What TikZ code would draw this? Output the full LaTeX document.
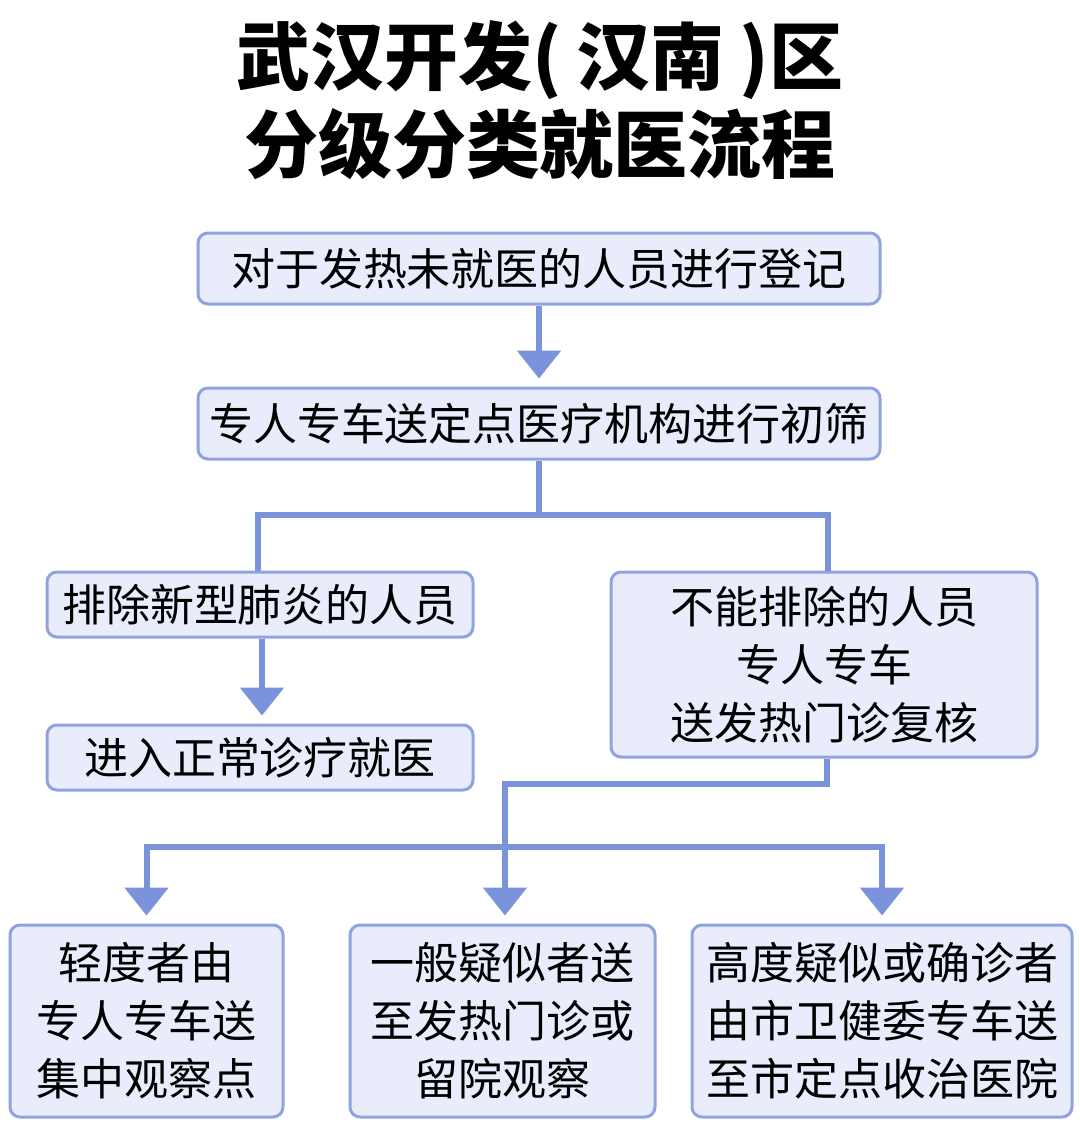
\documentclass[tikz,border=0pt]{standalone}
\usepackage{fontspec}
\usepackage{xcolor}
\usepackage{tikz}
\usetikzlibrary{arrows.meta,positioning}
\setmainfont{Noto Sans CJK SC}
\newfontfamily\titlefont{Noto Sans CJK SC Black}
\definecolor{flowblue}{RGB}{123,147,219}
\definecolor{boxline}{RGB}{143,163,222}
\definecolor{boxfill}{RGB}{233,237,251}

\begin{document}
\begin{tikzpicture}[
  x=0.5pt, y=-0.5pt,
  box/.style={draw=boxline, line width=1.5pt, rounded corners=5pt, fill=boxfill,
              align=center, inner sep=0pt, font=\fontsize{22}{29}\selectfont},
  wide/.style={box, minimum width=341pt, minimum height=35.5pt},
  half/.style={box, minimum width=213pt},
  low/.style={box, minimum height=96pt},
  link/.style={draw=flowblue, line width=3pt},
  flow/.style={link, -{Triangle[width=21.5pt,length=14pt]}, shorten >=4pt}
]
\useasboundingbox (0,0) rectangle (1080,1148);

\node[font=\titlefont\fontsize{37}{44}\selectfont, align=center] (title) at (540,100)
  {武汉开发(\hspace{0.2em}汉南\hspace{0.2em})区\\分级分类就医流程};

\node[wide] (register) at (539,268.5) {对于发热未就医的人员进行登记};
\node[wide, below=40.5pt of register] (screen) {专人专车送定点医疗机构进行初筛};
\node[half, minimum height=32.5pt] (excluded) at (260,604.5) {排除新型肺炎的人员};
\node[half, minimum height=32.5pt, below=42.5pt of excluded] (normal) {进入正常诊疗就医};
\node[half, minimum height=92.5pt] (review) at (824,664.5)
  {不能排除的人员\\专人专车\\送发热门诊复核};
\node[low, minimum width=136.5pt] (mild) at (146.5,1021)
  {轻度者由\\专人专车送\\集中观察点};
\node[low, minimum width=152.5pt, right=32pt of mild] (suspect)
  {一般疑似者送\\至发热门诊或\\留院观察};
\node[low, minimum width=190pt, right=17pt of suspect] (severe)
  {高度疑似或确诊者\\由市卫健委专车送\\至市定点收治医院};

\coordinate (split1) at (539,515);
\coordinate (bend) at (505,784);
\coordinate (split2) at (505,847);

\draw[flow] (register) -- (screen);
\draw[link] (screen.south) -- (split1);
\draw[link] (split1) -| ([xshift=-1pt]excluded.north);
\draw[link] (split1) -| ([xshift=2pt]review.north);
\draw[flow] ([xshift=1pt]excluded.south) -- ([xshift=1pt]normal.north);
\draw[link] ([xshift=1.5pt]review.south) |- (bend) -- (split2);
\draw[flow] (split2) -| (mild.north);
\draw[flow] (split2) -- (split2 |- suspect.north);
\draw[flow] (split2) -| (severe.north);
\end{tikzpicture}
\end{document}
